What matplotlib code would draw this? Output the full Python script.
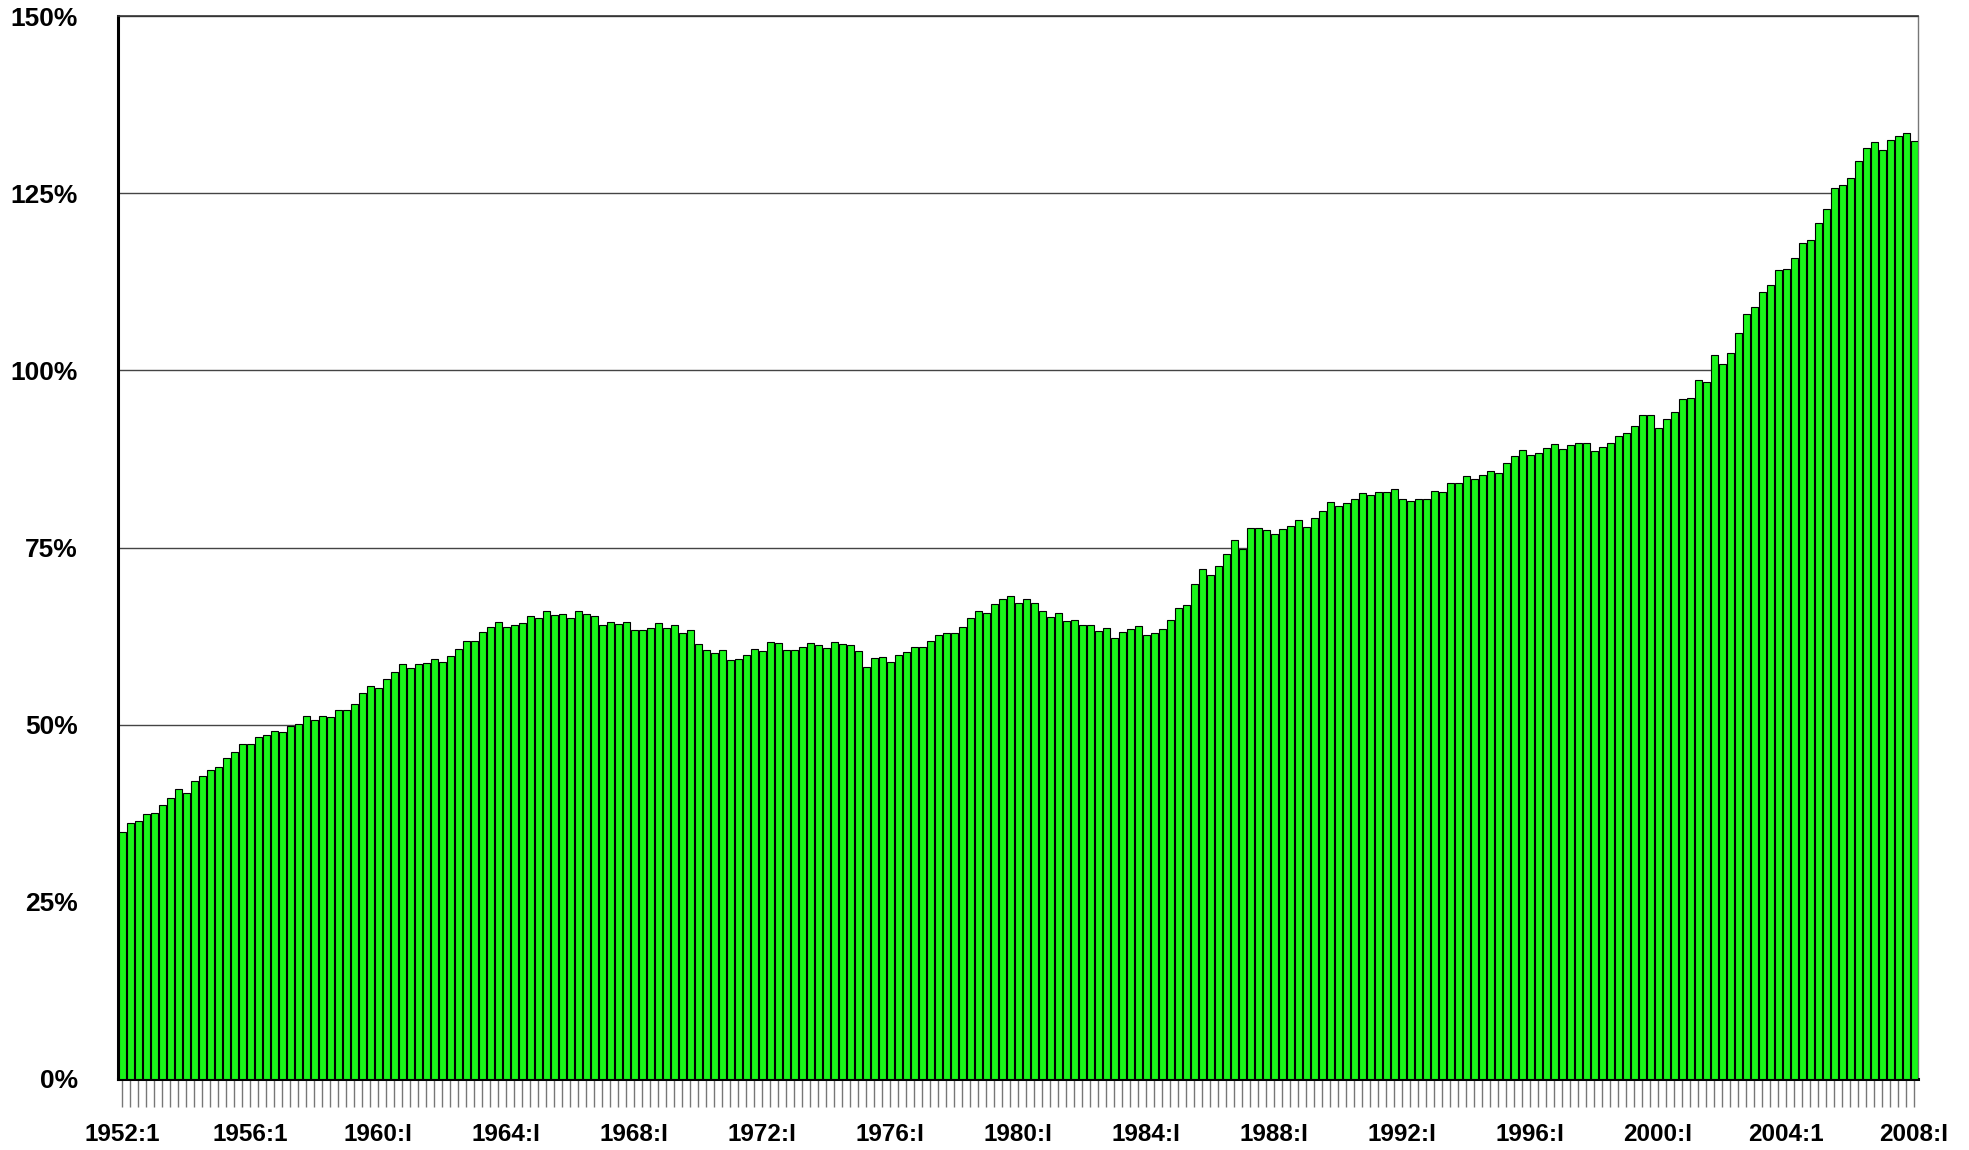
import numpy as np
import matplotlib
matplotlib.use('Agg')
import matplotlib.pyplot as plt

# quarterly values, 1952:1 .. 2008:1 (percent)
VALUES = [
    34.8, 36.1, 36.4, 37.4, 37.5, 38.7, 39.6, 40.9, 40.4, 42.0,
    42.7, 43.6, 44.0, 45.3, 46.2, 47.3, 47.3, 48.3, 48.6, 49.1,
    49.0, 49.8, 50.1, 51.2, 50.7, 51.2, 51.1, 52.1, 52.0, 52.9,
    54.4, 55.5, 55.2, 56.4, 57.4, 58.6, 58.0, 58.6, 58.7, 59.2,
    58.8, 59.7, 60.7, 61.8, 61.8, 63.1, 63.8, 64.5, 63.8, 64.0,
    64.4, 65.4, 65.1, 66.0, 65.5, 65.6, 65.1, 66.1, 65.6, 65.4,
    64.1, 64.5, 64.2, 64.5, 63.3, 63.3, 63.6, 64.4, 63.7, 64.0,
    63.0, 63.4, 61.4, 60.6, 60.1, 60.6, 59.1, 59.3, 59.9, 60.7,
    60.4, 61.6, 61.5, 60.6, 60.5, 61.0, 61.5, 61.2, 60.8, 61.6,
    61.4, 61.3, 60.4, 58.1, 59.4, 59.6, 58.8, 59.8, 60.2, 60.9,
    60.9, 61.8, 62.6, 63.0, 62.9, 63.8, 65.0, 66.0, 65.8, 67.0,
    67.7, 68.1, 67.1, 67.7, 67.2, 66.0, 65.2, 65.7, 64.6, 64.7,
    64.1, 64.0, 63.2, 63.6, 62.3, 63.1, 63.5, 63.9, 62.7, 63.0,
    63.5, 64.7, 66.5, 66.9, 69.9, 71.9, 71.1, 72.4, 74.1, 76.1,
    74.8, 77.7, 77.7, 77.4, 76.9, 77.6, 78.1, 78.9, 77.9, 79.1,
    80.2, 81.4, 80.9, 81.3, 81.8, 82.7, 82.4, 82.9, 82.9, 83.3,
    81.8, 81.5, 81.9, 81.8, 83.0, 82.8, 84.1, 84.1, 85.1, 84.7,
    85.3, 85.8, 85.5, 86.9, 87.9, 88.8, 88.0, 88.4, 89.0, 89.6,
    88.9, 89.4, 89.8, 89.8, 88.6, 89.2, 89.7, 90.8, 91.1, 92.2,
    93.7, 93.7, 91.9, 93.2, 94.1, 95.9, 96.1, 98.6, 98.3, 102.1,
    100.9, 102.4, 105.2, 108.0, 108.9, 111.0, 112.0, 114.1, 114.3, 115.9,
    117.9, 118.4, 120.8, 122.7, 125.7, 126.2, 127.2, 129.6, 131.4, 132.2,
    131.1, 132.5, 133.1, 133.5, 132.4,
]

# one label every 16 quarters
YEAR_LABELS = ['1952:1', '1956:1', '1960:I', '1964:I', '1968:I', '1972:I',
               '1976:I', '1980:I', '1984:I', '1988:I', '1992:I', '1996:I',
               '2000:I', '2004:1', '2008:I']
Y_TICKS = [0, 25, 50, 75, 100, 125, 150]

GREEN = '#1AF51A'
W, H = 1969, 1150

plt.rcParams['font.family'] = ['Liberation Sans', 'DejaVu Sans']

fig = plt.figure(figsize=(W / 100, H / 100), dpi=100)
# pixel-aligned plot area: 8 px per quarter
ax = fig.add_axes([118 / W, (H - 1079) / H, 1800 / W, 1063 / H])

x = np.arange(len(VALUES))
# grey drop shadow, then the bars
ax.bar(x + 0.125, VALUES, width=0.875, color='#9a9a9a', linewidth=0, zorder=2)
ax.bar(x, VALUES, width=0.875, color=GREEN, edgecolor='black',
       linewidth=0.8, zorder=3)

ax.set_xlim(-0.5, len(VALUES) - 0.5)
ax.set_ylim(0, 150)

ax.set_yticks(Y_TICKS)
ax.set_yticklabels([f'{v}%' for v in Y_TICKS], fontsize=19, fontweight='bold')
ax.tick_params(axis='y', length=0, pad=29)
ax.yaxis.grid(True, color='#444444', linewidth=1.0, zorder=0)
ax.set_axisbelow(True)

labels = [''] * len(VALUES)
for i, lbl in enumerate(YEAR_LABELS):
    labels[i * 16] = lbl
ax.set_xticks(x)
ax.set_xticklabels(labels, fontsize=17.5, fontweight='bold')
ax.tick_params(axis='x', length=20, width=1.0, color='#777777', pad=12)

ax.spines['left'].set_linewidth(2.2)
ax.spines['bottom'].set_linewidth(2.2)
ax.spines['top'].set_linewidth(1.2)
ax.spines['top'].set_color('#333333')
ax.spines['right'].set_linewidth(1.0)
ax.spines['right'].set_color('#777777')

fig.savefig('out.png', dpi=100)
